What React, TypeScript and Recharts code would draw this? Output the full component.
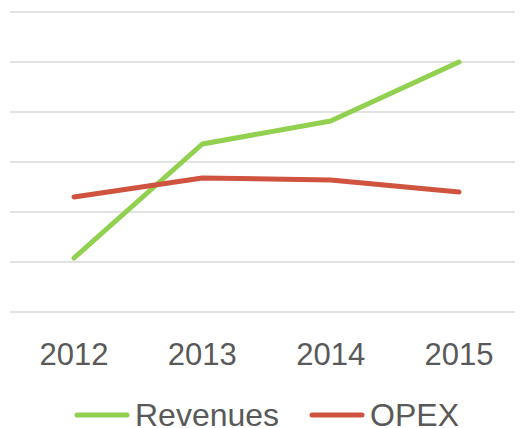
import React from 'react';
import { LineChart, Line, XAxis, YAxis, CartesianGrid, Legend } from 'recharts';

const years = ['2012', '2013', '2014', '2015'];
const revenues = [10.8, 33.6, 38.2, 50];
const opex = [23, 26.8, 26.4, 24];
const yTicks = [0, 10, 20, 30, 40, 50, 60];

const series = [
  { key: 'Revenues', color: '#92D050' },
  { key: 'OPEX', color: '#D0533F' },
];

const data = years.map((year, i) => ({
  year,
  Revenues: revenues[i],
  OPEX: opex[i],
}));

const FONT = '"Liberation Sans", Arial, sans-serif';

const ChartLegend = () => (
  <div
    style={{
      display: 'flex',
      justifyContent: 'center',
      alignItems: 'center',
      height: 40,
      fontFamily: FONT,
      fontSize: 32,
      color: '#595959',
    }}
  >
    {series.map((s, i) => (
      <div key={s.key} style={{ display: 'flex', alignItems: 'center', marginLeft: i === 0 ? 0 : 30 }}>
        <svg width={56} height={8} style={{ marginRight: 5 }}>
          <line x1={3} y1={4} x2={53} y2={4} stroke={s.color} strokeWidth={5} strokeLinecap="round" />
        </svg>
        <span>{s.key}</span>
      </div>
    ))}
  </div>
);

export default function App() {
  return (
    <LineChart
      width={515}
      height={420}
      data={data}
      margin={{ top: 4, right: 0, bottom: 0, left: 2 }}
    >
      <CartesianGrid vertical={false} stroke="#D9D9D9" strokeWidth={1.5} />
      <XAxis
        dataKey="year"
        axisLine={false}
        tickLine={false}
        tickSize={0}
        tickMargin={31}
        height={76}
        padding={{ left: 64, right: 64 }}
        tick={{ fill: '#595959', fontSize: 31, fontFamily: FONT }}
      />
      <YAxis hide domain={[0, 60]} ticks={yTicks} />
      <Legend
        verticalAlign="bottom"
        content={() => <ChartLegend />}
        wrapperStyle={{ bottom: -7 }}
      />
      {series.map((s) => (
        <Line
          key={s.key}
          type="linear"
          dataKey={s.key}
          stroke={s.color}
          strokeWidth={5}
          strokeLinecap="round"
          strokeLinejoin="round"
          dot={false}
          isAnimationActive={false}
        />
      ))}
    </LineChart>
  );
}
